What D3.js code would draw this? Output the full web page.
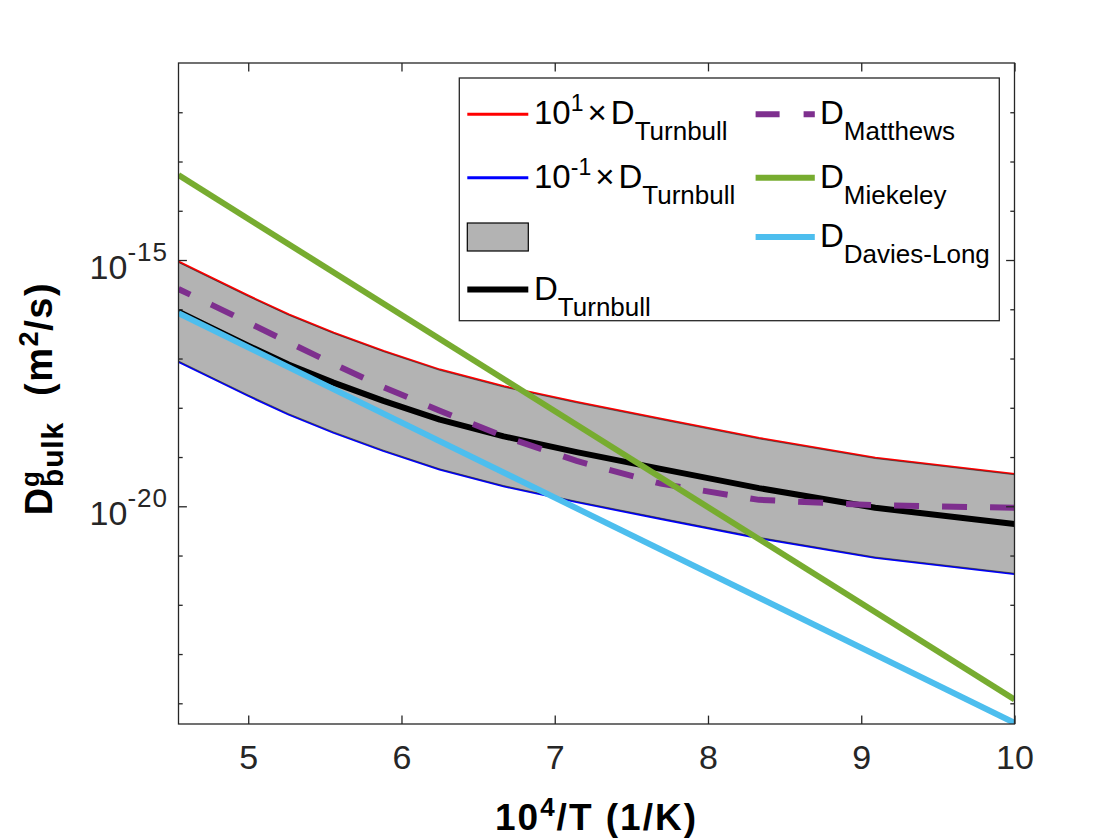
<!DOCTYPE html>
<html><head><meta charset="utf-8">
<script src="https://cdn.jsdelivr.net/npm/d3@7"></script>
<style>
body{margin:0;background:#fff}
svg{display:block}
text{font-family:"Liberation Sans",Arial,Helvetica,sans-serif}
</style>
</head><body>
<svg id="chart" width="1120" height="840"></svg>
<script>
// ---------------- data ----------------
// 10^4/T grid (T = 2200 K ... 1000 K)
const invT = [4.545, 4.762, 5.000, 5.263, 5.556, 5.882, 6.250, 6.667, 7.143, 7.692, 8.333, 9.091, 10.000];
// D_Turnbull (m^2/s)
const dTurnbull = [8.91e-17, 4.17e-17, 1.82e-17, 7.59e-18, 3.24e-18, 1.38e-18, 5.75e-19, 2.63e-19, 1.26e-19, 5.75e-20, 2.34e-20, 9.33e-21, 4.37e-21];
// 10^1 x D_Turnbull
const dTurnbullUp = [8.91e-16, 4.17e-16, 1.82e-16, 7.59e-17, 3.24e-17, 1.38e-17, 5.75e-18, 2.63e-18, 1.26e-18, 5.75e-19, 2.34e-19, 9.33e-20, 4.37e-20];
// 10^-1 x D_Turnbull
const dTurnbullLow = [8.91e-18, 4.17e-18, 1.82e-18, 7.59e-19, 3.24e-19, 1.38e-19, 5.75e-20, 2.63e-20, 1.26e-20, 5.75e-21, 2.34e-21, 9.33e-22, 4.37e-22];
// D_Matthews
const dMatthews = [2.57e-16, 1.23e-16, 5.37e-17, 2.14e-17, 7.76e-18, 2.63e-18, 8.71e-19, 2.63e-19, 8.32e-20, 2.88e-20, 1.35e-20, 1.05e-20, 9.33e-21];
// straight Arrhenius lines: end points
const invTEnds = [4.545, 10.000];
const dMiekeley = [5.3e-14, 1.2e-24];
const dDaviesLong = [8.3e-17, 4.0e-25];

// axes
const xDomain = [4.545, 10];
const yDomain = [3.8e-25, 1e-11];
const xTicks = [5, 6, 7, 8, 9, 10];
const yLabelExps = [-20, -15];
const yMinorExps = [-24, -23, -22, -21, -19, -18, -17, -16, -14, -13, -12];

// legend labels
const legendLabels = {
  up:   [{t:"10"},{t:"1",size:23,dy:-13},{t:"×",gapBefore:4},{t:"D",gapBefore:4},{t:"Turnbull",size:26,dy:16}],
  low:  [{t:"10"},{t:"-1",size:23,dy:-13},{t:"×",gapBefore:4},{t:"D",gapBefore:4},{t:"Turnbull",size:26,dy:16}],
  band: [],
  turn: [{t:"D"},{t:"Turnbull",size:26,dy:16}],
  matt: [{t:"D"},{t:"Matthews",size:26,dy:16}],
  miek: [{t:"D"},{t:"Miekeley",size:26,dy:16}],
  dav:  [{t:"D"},{t:"Davies-Long",size:26,dy:16}]
};

// ---------------- styles ----------------
const C = {red:"#ff0000", blue:"#0000ff", band:"#b3b3b3", black:"#000000",
           purple:"#7e2f8e", green:"#77ac30", cyan:"#4dbeee", axis:"#262626"};
const L = 178.5, R = 1014.5, T = 63, B = 724;

const svg = d3.select("#chart");
const x = d3.scaleLinear().domain(xDomain).range([L, R]);
const y = d3.scaleLog().domain(yDomain).range([B, T]);

// rich text helper: pieces placed sequentially (sub/superscripts)
function rich(parent, px, py, pieces, opts) {
  opts = opts || {};
  const g = parent.append("g").attr("transform", `translate(${px},${py})`);
  const inner = g.append("g");
  let cx = 0, start = 0, gw = 0;
  pieces.forEach(p => {
    if (p.gap !== undefined) { cx += p.gap; start = cx; return; }
    if (p.gapBefore) { cx += p.gapBefore; start = cx; }
    const t = inner.append("text")
      .attr("x", start).attr("y", p.dy || 0)
      .attr("font-size", p.size || opts.size || 32)
      .attr("font-weight", p.weight || opts.weight || "normal")
      .attr("fill", opts.fill || "#000")
      .style("letter-spacing", (p.ls !== undefined ? p.ls : (opts.ls || 0)) + "px")
      .text(p.t);
    const w = t.node().getComputedTextLength();
    gw = Math.max(gw, w);
    if (!p.hold) { cx = start + gw; start = cx; gw = 0; }
  });
  const total = cx;
  let shift = 0;
  if (opts.anchor === "end") shift = -total;
  if (opts.anchor === "middle") shift = -total / 2;
  inner.attr("transform", `translate(${shift},0)`);
  return g;
}

// clip
svg.append("defs").append("clipPath").attr("id", "clip")
  .append("rect").attr("x", L).attr("y", T).attr("width", R - L).attr("height", B - T);
const plot = svg.append("g").attr("clip-path", "url(#clip)");

const line = (xs, ys) => d3.line().x((d, i) => x(xs[i])).y(d => y(d))(ys);

// red & blue thin lines
plot.append("path").attr("d", line(invT, dTurnbullUp)).attr("fill", "none")
  .attr("stroke", C.red).attr("stroke-width", 3.6);
plot.append("path").attr("d", line(invT, dTurnbullLow)).attr("fill", "none")
  .attr("stroke", C.blue).attr("stroke-width", 3.6);
// grey band
const area = d3.area().x((d, i) => x(invT[i])).y0((d, i) => y(dTurnbullLow[i])).y1(d => y(d));
plot.append("path").attr("d", area(dTurnbullUp)).attr("fill", C.band)
  .attr("stroke", "#222").attr("stroke-width", 0.6);
// D_Turnbull
plot.append("path").attr("d", line(invT, dTurnbull)).attr("fill", "none")
  .attr("stroke", C.black).attr("stroke-width", 6).attr("stroke-linejoin", "round");
// D_Matthews
plot.append("path").attr("d", line(invT, dMatthews)).attr("fill", "none")
  .attr("stroke", C.purple).attr("stroke-width", 6)
  .attr("stroke-dasharray", "25,23").attr("stroke-dashoffset", 12);
// D_Miekeley
plot.append("path").attr("d", line(invTEnds, dMiekeley)).attr("fill", "none")
  .attr("stroke", C.green).attr("stroke-width", 6);
// D_Davies-Long
plot.append("path").attr("d", line(invTEnds, dDaviesLong)).attr("fill", "none")
  .attr("stroke", C.cyan).attr("stroke-width", 6);

// ---------------- axes ----------------
const major = 8.4, minor = 4.2;
function styleAxis(g) {
  g.select(".domain").remove();
  g.selectAll(".tick line").attr("stroke", C.axis).attr("stroke-width", 1.3);
}
svg.append("g").attr("transform", `translate(0,${B})`)
  .call(d3.axisBottom(x).tickValues(xTicks).tickSize(-major).tickPadding(21).tickFormat(d3.format("d")))
  .call(styleAxis)
  .call(g => g.selectAll("text").attr("font-size", 34).attr("fill", C.axis)
        .attr("font-family", '"Liberation Sans",Arial,sans-serif'));
svg.append("g").attr("transform", `translate(0,${T})`)
  .call(d3.axisTop(x).tickValues(xTicks).tickSize(-major).tickFormat(""))
  .call(styleAxis);
const majVals = yLabelExps.map(e => Math.pow(10, e));
const minVals = yMinorExps.map(e => Math.pow(10, e));
svg.append("g").attr("transform", `translate(${L},0)`)
  .call(d3.axisLeft(y).tickValues(majVals).tickSize(-major).tickFormat("")).call(styleAxis);
svg.append("g").attr("transform", `translate(${L},0)`)
  .call(d3.axisLeft(y).tickValues(minVals).tickSize(-minor).tickFormat("")).call(styleAxis);
svg.append("g").attr("transform", `translate(${R},0)`)
  .call(d3.axisRight(y).tickValues(majVals).tickSize(-major).tickFormat("")).call(styleAxis);
svg.append("g").attr("transform", `translate(${R},0)`)
  .call(d3.axisRight(y).tickValues(minVals).tickSize(-minor).tickFormat("")).call(styleAxis);

svg.append("rect").attr("x", L).attr("y", T).attr("width", R - L).attr("height", B - T)
  .attr("fill", "none").attr("stroke", C.axis).attr("stroke-width", 1.3);

// y tick labels 10^e
yLabelExps.forEach(e => {
  rich(svg, 168, y(Math.pow(10, e)) + 18.5,
       [{t:"10"}, {t:String(e), size:26, dy:-17.8, ls:1}],
       {anchor:"end", fill:C.axis, size:34});
});

// axis titles
rich(svg, 596.5, 830,
     [{t:"10"}, {t:"4", size:26, dy:-14.5}, {t:"/T (1/K)"}],
     {anchor:"middle", weight:"bold", size:37, fill:"#000", ls:2});
const yl = svg.append("g").attr("transform", "translate(52,398.5) rotate(-90)");
rich(yl, 0, 0,
     [{t:"D"}, {t:"g", size:26, dy:-13.5, hold:true}, {t:"bulk", size:30, dy:11},
      {gap:26}, {t:"(m", ls:1.5}, {t:"2", size:27, dy:-14}, {t:"/s)", ls:1.5}],
     {anchor:"middle", weight:"bold", size:38, fill:"#000", ls:0.8});

// ---------------- legend ----------------
const lg = svg.append("g");
lg.append("rect").attr("x", 459.3).attr("y", 78).attr("width", 540).attr("height", 242.7)
  .attr("fill", "#fff").attr("stroke", C.axis).attr("stroke-width", 1.3);
const col1 = {x0:467.3, x1:528.3, tx:534};
const col2 = {x0:755.6, x1:814.8, tx:820};
const items = [
  {col:col1, y:114.3, color:C.red, w:3, key:"up"},
  {col:col1, y:177.7, color:C.blue, w:3, key:"low"},
  {col:col1, y:237,   key:"band", rect:true},
  {col:col1, y:289.5, color:C.black, w:6, key:"turn"},
  {col:col2, y:114.3, color:C.purple, w:6, key:"matt", dash:"24,24"},
  {col:col2, y:177.7, color:C.green, w:6, key:"miek"},
  {col:col2, y:237,   color:C.cyan, w:6, key:"dav"}
];
items.forEach(it => {
  if (it.rect) {
    lg.append("rect").attr("x", it.col.x0).attr("y", it.y - 14).attr("width", it.col.x1 - it.col.x0)
      .attr("height", 28).attr("fill", C.band).attr("stroke", "#000").attr("stroke-width", 1.2);
  } else {
    lg.append("line").attr("x1", it.col.x0).attr("x2", it.col.x1).attr("y1", it.y).attr("y2", it.y)
      .attr("stroke", it.color).attr("stroke-width", it.w)
      .attr("stroke-dasharray", it.dash || null);
  }
  const lab = legendLabels[it.key];
  if (lab.length) rich(lg, it.col.tx, it.y + 10, lab, {size:33, fill:"#000"});
});
</script>
</body></html>
